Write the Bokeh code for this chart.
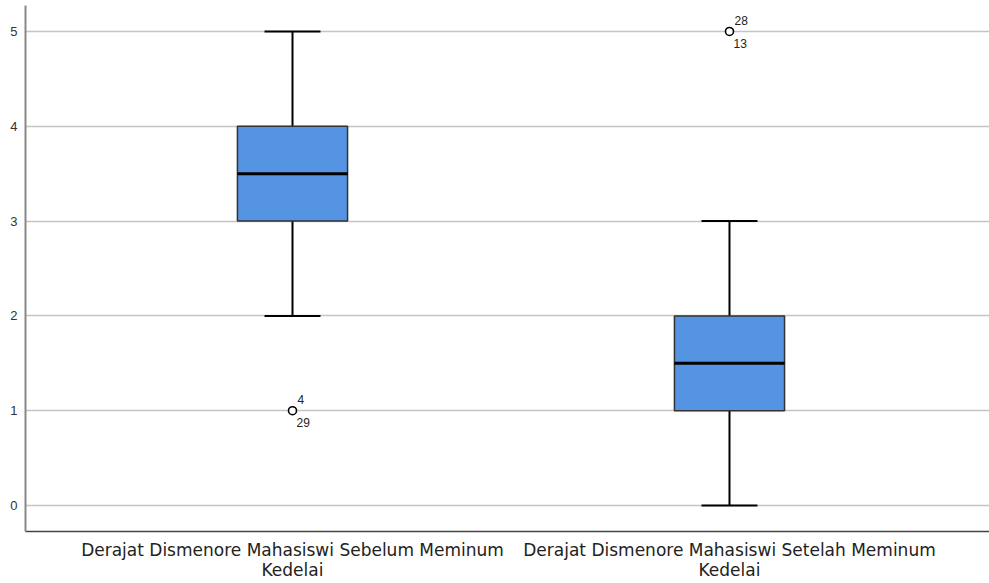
from bokeh.plotting import figure
from bokeh.models import ColumnDataSource, Range1d, FixedTicker
from bokeh.core.properties import value
from bokeh.embed import file_html
from bokeh.resources import INLINE

# ---- data ----
categories = ["Derajat Dismenore Mahasiswi Sebelum Meminum\nKedelai",
              "Derajat Dismenore Mahasiswi Setelah Meminum\nKedelai"]
positions = [1, 2]
q1 = [3, 1]
median = [3.5, 1.5]
q3 = [4, 2]
whisker_low = [2, 0]
whisker_high = [5, 3]
outlier_x = [1, 2]
outlier_y = [1, 5]
outlier_label_top = ["4", "28"]
outlier_label_bottom = ["29", "13"]
y_ticks = [0, 1, 2, 3, 4, 5]

box_w = 0.252
cap_w = 0.128

src = ColumnDataSource(dict(
    x=positions, q1=q1, med=median, q3=q3, lo=whisker_low, hi=whisker_high,
    cl=[x - cap_w / 2 for x in positions], cr=[x + cap_w / 2 for x in positions],
    bl=[x - box_w / 2 for x in positions], br=[x + box_w / 2 for x in positions],
))
osrc = ColumnDataSource(dict(x=outlier_x, y=outlier_y,
                             t1=outlier_label_top, t2=outlier_label_bottom))

p = figure(width=989, height=583, output_backend="svg", toolbar_location=None,
           x_range=Range1d(0.389, 2.595), y_range=Range1d(-0.274, 5.274),
           min_border_left=25, min_border_right=0, min_border_top=5,
           min_border_bottom=52)
p.outline_line_color = None
p.background_fill_color = "white"
p.border_fill_color = "white"

# whiskers
p.segment(x0="x", y0="q3", x1="x", y1="hi", source=src, line_color="black", line_width=2)
p.segment(x0="x", y0="q1", x1="x", y1="lo", source=src, line_color="black", line_width=2)
p.segment(x0="cl", y0="hi", x1="cr", y1="hi", source=src, line_color="black", line_width=2)
p.segment(x0="cl", y0="lo", x1="cr", y1="lo", source=src, line_color="black", line_width=2)
# boxes
p.quad(left="bl", right="br", bottom="q1", top="q3", source=src,
       fill_color="#5593e3", line_color="#333333", line_width=1.5)
p.segment(x0="bl", y0="med", x1="br", y1="med", source=src, line_color="black", line_width=3)

# outliers
p.scatter(x="x", y="y", source=osrc, marker="circle", size=8,
          fill_color="white", line_color="black", line_width=1.6)
p.text(x="x", y="y", text="t1", source=osrc, x_offset=5, y_offset=-11,
       text_font=value("Liberation Sans"), text_font_size="12px",
       text_color="#222222", text_baseline="middle", text_align="left")
p.text(x="x", y="y", text="t2", source=osrc, x_offset=4, y_offset=12,
       text_font=value("Liberation Sans"), text_font_size="12px",
       text_color="#222222", text_baseline="middle", text_align="left")

# axes
p.xaxis.ticker = FixedTicker(ticks=positions)
p.xaxis.major_label_overrides = {pos: lab for pos, lab in zip(positions, categories)}
p.xaxis.major_tick_line_color = None
p.xaxis.minor_tick_line_color = None
p.xaxis.axis_line_color = "#444444"
p.xaxis.axis_line_width = 1.5
p.xaxis.major_label_text_font = "DejaVu Sans"
p.xaxis.major_label_text_font_size = "17px"
p.xaxis.major_label_text_line_height = 1.0
p.xaxis.major_label_text_color = "#222222"
p.xaxis.major_label_standoff = 2

p.yaxis.ticker = FixedTicker(ticks=y_ticks)
p.yaxis.major_tick_line_color = None
p.yaxis.minor_tick_line_color = None
p.yaxis.axis_line_color = "#888888"
p.yaxis.axis_line_width = 2
p.yaxis.major_label_text_font = "Liberation Sans"
p.yaxis.major_label_text_font_size = "13px"
p.yaxis.major_label_text_color = "#333333"
p.yaxis.major_label_standoff = 2

p.xgrid.grid_line_color = None
p.ygrid.ticker = FixedTicker(ticks=y_ticks)
p.ygrid.grid_line_color = "#c4c4c4"
p.ygrid.grid_line_width = 1.5

open("out.html", "w").write(file_html(p, INLINE))
